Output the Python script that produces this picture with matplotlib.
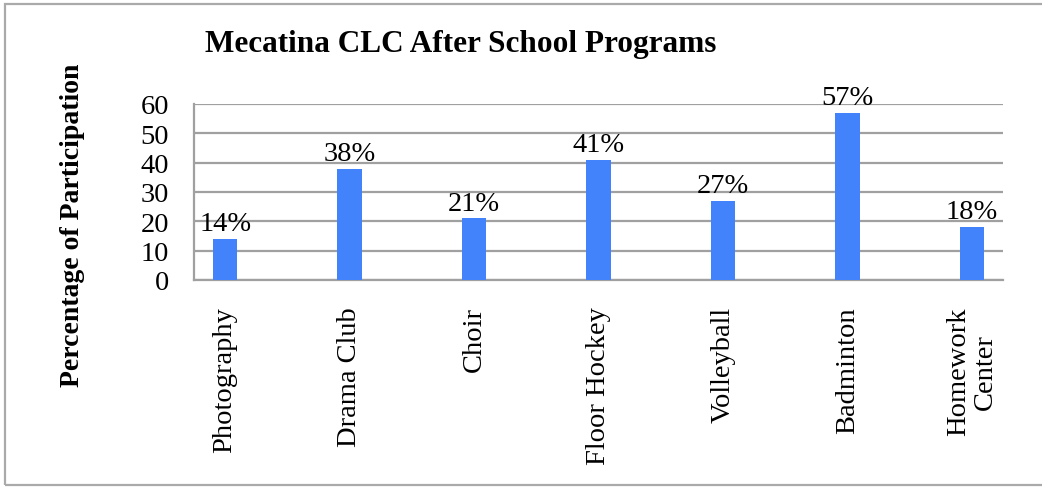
import matplotlib
matplotlib.use('Agg')
import matplotlib.pyplot as plt
from matplotlib.patches import Rectangle

programs = ["Photography", "Drama Club", "Choir", "Floor Hockey",
            "Volleyball", "Badminton", "Homework\nCenter"]
participation = [14, 38, 21, 41, 27, 57, 18]
y_ticks = [0, 10, 20, 30, 40, 50, 60]

bar_color = "#4282fa"
grid_color = "#a0a0a0"

plt.rcParams['font.family'] = ['Liberation Serif', 'DejaVu Serif']

fig = plt.figure(figsize=(10.42, 4.89), dpi=100)
ax = fig.add_axes([0.1862, 0.4254, 0.7764, 0.3599])

x = list(range(len(programs)))
bars = ax.bar(x, participation, width=0.195, color=bar_color, zorder=3)

for rect, val in zip(bars, participation):
    ax.annotate(f"{val}%", (rect.get_x() + rect.get_width() / 2, rect.get_height()),
                xytext=(0, 2), textcoords="offset points",
                ha="center", va="bottom", fontsize=20.5)

ax.set_xlim(-0.25, len(programs) - 0.75)
ax.set_ylim(0, 60)
ax.set_yticks(y_ticks)
ax.set_xticks(x)
ax.set_xticklabels(programs, rotation=90, fontsize=20.5, multialignment="center",
                   linespacing=1.1)
ax.tick_params(axis="y", length=0, pad=18, labelsize=20.5)
ax.tick_params(axis="x", length=0, pad=19)
ax.yaxis.grid(True, color=grid_color, linewidth=1.6, zorder=0)

for side in ["top", "right"]:
    ax.spines[side].set_visible(False)
for side in ["left", "bottom"]:
    ax.spines[side].set_color(grid_color)
    ax.spines[side].set_linewidth(1.6)

fig.text(0.442, 0.908, "Mecatina CLC After School Programs",
         ha="center", va="center", fontsize=22.5, fontweight="bold")
fig.text(0.070, 0.54, "Percentage of Participation", rotation=90,
         ha="center", va="center", fontsize=20, fontweight="bold")

# outer chart border (right edge runs off the picture)
fig.patches.append(Rectangle((5 / 1042, 3 / 489), 1.05, 1 - 8 / 489,
                             transform=fig.transFigure, fill=False,
                             edgecolor="#aaaaaa", linewidth=1.6))

fig.savefig("out.png", dpi=100)
plt.close(fig)
